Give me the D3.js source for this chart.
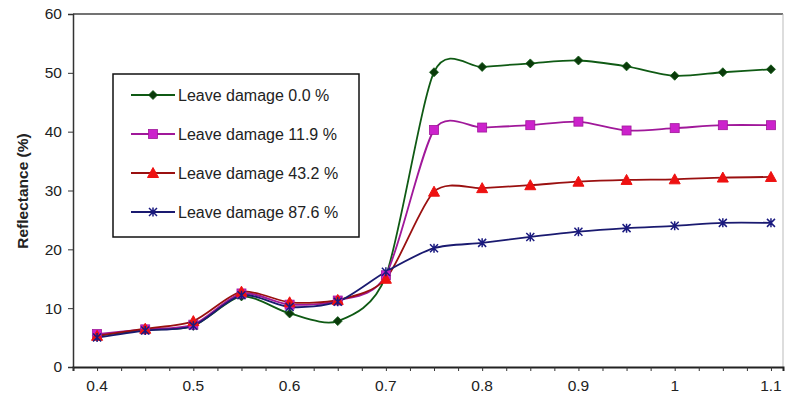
<!DOCTYPE html>
<html>
<head>
<meta charset="utf-8">
<script src="https://cdn.jsdelivr.net/npm/d3@7"></script>
<style>
  body { margin: 0; background: #fff; }
  svg { display: block; font-family: "Liberation Sans", Arial, sans-serif; }
</style>
</head>
<body>
<div id="chart"></div>
<script>
// wavelength (um) and reflectance (%) per leaf damage level
const wavelengths = [0.4, 0.45, 0.5, 0.55, 0.6, 0.65, 0.7, 0.75, 0.8, 0.85, 0.9, 0.95, 1.0, 1.05, 1.1];
const damage00 = [5.3, 6.3, 7.0, 12.0, 9.1, 7.8, 15.5, 50.1, 51.0, 51.6, 52.1, 51.1, 49.5, 50.1, 50.6];
const damage119 = [5.6, 6.4, 7.2, 12.5, 10.6, 11.3, 15.6, 40.3, 40.7, 41.1, 41.7, 40.2, 40.6, 41.1, 41.1];
const damage432 = [5.3, 6.5, 7.8, 12.8, 11.0, 11.4, 15.0, 29.8, 30.4, 30.9, 31.5, 31.8, 31.9, 32.2, 32.3];
const damage876 = [5.0, 6.2, 7.0, 12.2, 10.2, 11.1, 16.2, 20.2, 21.1, 22.1, 23.0, 23.6, 24.0, 24.5, 24.5];
const seriesNames = ["Leave damage 0.0 %", "Leave damage 11.9 %", "Leave damage 43.2 %", "Leave damage 87.6 %"];
const yTicks = [0, 10, 20, 30, 40, 50, 60];
const xLabels = [0.4, 0.5, 0.6, 0.7, 0.8, 0.9, 1, 1.1];

const width = 793, height = 403;
const plotLeft = 73, plotRight = 783, plotTop = 14, plotBottom = 367;

const svg = d3.select("#chart").append("svg")
  .attr("width", width)
  .attr("height", height);

const x = d3.scaleLinear().domain([0.375, 1.1125]).range([plotLeft, plotRight]);
const y = d3.scaleLinear().domain([0, 60]).range([plotBottom, plotTop]);

// plot frame (top + right)
svg.append("line").attr("x1", plotLeft).attr("x2", plotRight).attr("y1", plotTop).attr("y2", plotTop)
  .attr("stroke", "#444").attr("stroke-width", 1.5);
svg.append("line").attr("x1", plotRight).attr("x2", plotRight).attr("y1", plotTop).attr("y2", plotBottom)
  .attr("stroke", "#bbb").attr("stroke-width", 1);

// y axis
const yAxis = svg.append("g")
  .attr("transform", `translate(${plotLeft},0)`)
  .call(d3.axisLeft(y).tickValues(yTicks).tickSize(5).tickPadding(6));
yAxis.select(".domain").attr("stroke", "#333").attr("stroke-width", 1.5);
yAxis.selectAll(".tick line").attr("stroke", "#333");
yAxis.selectAll("text").attr("font-size", 15.5).attr("fill", "#222")
  .attr("font-family", "Liberation Sans, Arial, sans-serif");

// x axis, minor ticks every 0.025
const minorTicks = d3.range(0, 30).map(i => +(0.375 + i * 0.025).toFixed(3));
const xAxis = svg.append("g")
  .attr("transform", `translate(0,${plotBottom})`)
  .call(d3.axisBottom(x).tickValues(minorTicks).tickSize(4).tickFormat(""));
xAxis.select(".domain").attr("stroke", "#222").attr("stroke-width", 2);
xAxis.selectAll(".tick line").attr("stroke", "#333");

svg.append("g").selectAll("text")
  .data(xLabels)
  .join("text")
  .attr("x", d => x(d))
  .attr("y", 391)
  .attr("text-anchor", "middle")
  .attr("font-size", 15.5)
  .attr("fill", "#222")
  .text(d => d);

// y axis title
svg.append("text")
  .attr("transform", "translate(28,191) rotate(-90)")
  .attr("text-anchor", "middle")
  .attr("font-size", 15.5)
  .attr("font-weight", "bold")
  .attr("fill", "#222")
  .text("Reflectance (%)");

const series = [
  { name: seriesNames[0], values: damage00, line: "#0f5a14", fill: "#0a3a0a", marker: "diamond" },
  { name: seriesNames[1], values: damage119, line: "#a0189a", fill: "#cc22cc", marker: "square" },
  { name: seriesNames[2], values: damage432, line: "#9a1010", fill: "#ee1111", marker: "triangle" },
  { name: seriesNames[3], values: damage876, line: "#1a1a70", fill: "#1a1a80", marker: "star" }
];

const line = d3.line()
  .x(d => x(d[0]))
  .y(d => y(d[1]))
  .curve(d3.curveCardinal.tension(0.2));

function drawMarker(g, type, color, stroke) {
  if (type === "diamond") {
    g.append("path").attr("d", "M0,-4.5L4.5,0L0,4.5L-4.5,0Z").attr("fill", color).attr("stroke", stroke).attr("stroke-width", 0.8);
  } else if (type === "square") {
    g.append("rect").attr("x", -4.5).attr("y", -4.5).attr("width", 9).attr("height", 9)
      .attr("fill", color).attr("stroke", stroke).attr("stroke-width", 0.8);
  } else if (type === "triangle") {
    g.append("path").attr("d", "M0,-5.5L5.5,4.5L-5.5,4.5Z").attr("fill", color).attr("stroke", color);
  } else {
    g.append("path").attr("d", "M-4,-4L4,4M-4,4L4,-4M0,-4.5L0,4.5")
      .attr("stroke", color).attr("stroke-width", 1.5).attr("fill", "none");
  }
}

series.forEach(s => {
  const pts = wavelengths.map((w, i) => [w, s.values[i]]);
  svg.append("path")
    .datum(pts)
    .attr("fill", "none")
    .attr("stroke", s.line)
    .attr("stroke-width", 1.8)
    .attr("d", line);
});

series.forEach(s => {
  wavelengths.forEach((w, i) => {
    const g = svg.append("g").attr("transform", `translate(${x(w)},${y(s.values[i])})`);
    drawMarker(g, s.marker, s.fill, s.line);
  });
});

// legend
const legend = svg.append("g");
legend.append("rect")
  .attr("x", 113).attr("y", 74).attr("width", 246).attr("height", 163)
  .attr("fill", "#fff").attr("stroke", "#111").attr("stroke-width", 1.5);

series.forEach((s, i) => {
  const ly = 95 + i * 39;
  legend.append("line").attr("x1", 131).attr("x2", 175).attr("y1", ly).attr("y2", ly)
    .attr("stroke", s.line).attr("stroke-width", 1.8);
  drawMarker(legend.append("g").attr("transform", `translate(153,${ly})`), s.marker, s.fill, s.line);
  legend.append("text")
    .attr("x", 178).attr("y", ly + 5.5)
    .attr("font-size", 16)
    .attr("fill", "#222")
    .text(s.name);
});
</script>
</body>
</html>
